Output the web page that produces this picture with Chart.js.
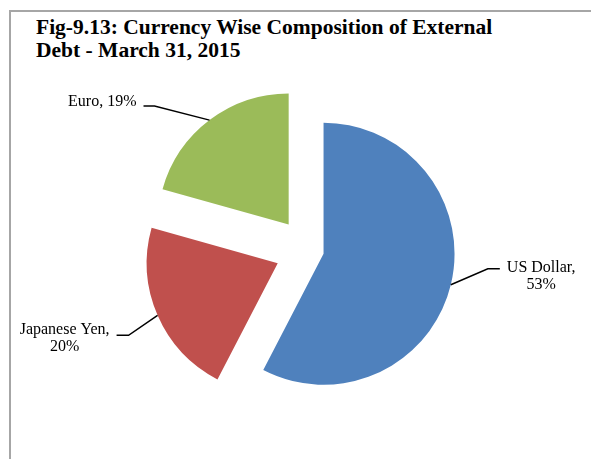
<!DOCTYPE html>
<html>
<head>
<meta charset="utf-8">
<title>Currency Wise Composition of External Debt</title>
<script src="https://cdn.jsdelivr.net/npm/chart.js@4.4.0/dist/chart.umd.min.js"></script>
<style>
  html, body { margin: 0; padding: 0; background: #fff; }
  body { width: 591px; height: 459px; position: relative; overflow: hidden; }
  .frame {
    position: absolute; left: 9px; top: 10px; width: 620px; height: 480px;
    border-left: 2px solid #a6a6a6; border-top: 2px solid #a6a6a6;
  }
  .title {
    position: absolute; left: 36px; top: 16px; margin: 0;
    font: bold 21.5px 'Liberation Serif', 'Times New Roman', serif;
    line-height: 23px; color: #000;
  }
  #debtChart { position: absolute; left: 0; top: 0; }
</style>
</head>
<body>
<div class="frame"></div>
<h1 class="title">Fig-9.13: Currency Wise Composition of External<br>Debt - March 31, 2015</h1>
<canvas id="debtChart" width="591" height="459"></canvas>
<script>
// Share of external debt by currency (%)
const currencies = ['US Dollar', 'Japanese Yen', 'Euro'];
const shares = [53, 20, 19];
const sliceColors = ['#4F81BD', '#C0504D', '#9BBB59'];

// How far each slice is pulled out from the centre (px)
const explodeBy = [16, 33, 32];

// Leader line and label placement, relative to the slice edge
const labelLayout = [
  { elbow: [37, -16], arm: 12, wrap: true, side: 'right', dy: 3 },
  { elbow: [-29, 20], arm: -12, wrap: true, side: 'left', dy: -1 },
  { elbow: [-55, -14], arm: -11, wrap: false, side: 'left', dy: 0 }
];

const labelFont = "16px 'Liberation Serif', 'Times New Roman', serif";

// Moves each arc out along its own mid angle
const explodePlugin = {
  id: 'explode',
  afterDatasetUpdate(chart, args) {
    args.meta.data.forEach((arc, i) => {
      const d = explodeBy[i] || 0;
      const mid = (arc.startAngle + arc.endAngle) / 2;
      arc.x += Math.cos(mid) * d;
      arc.y += Math.sin(mid) * d;
    });
  }
};

// Category name + value labels with bent leader lines
const leaderLabels = {
  id: 'leaderLabels',
  afterDatasetsDraw(chart) {
    const ctx = chart.ctx;
    const arcs = chart.getDatasetMeta(0).data;
    ctx.save();
    ctx.font = labelFont;
    ctx.fillStyle = '#000';
    ctx.strokeStyle = '#000';
    ctx.lineWidth = 1.5;

    arcs.forEach((arc, i) => {
      const layout = labelLayout[i];
      const mid = (arc.startAngle + arc.endAngle) / 2;
      const ax = arc.x + Math.cos(mid) * arc.outerRadius;
      const ay = arc.y + Math.sin(mid) * arc.outerRadius;
      const ex = ax + layout.elbow[0];
      const ey = ay + layout.elbow[1];
      const tx = ex + layout.arm;

      ctx.beginPath();
      ctx.moveTo(ax, ay);
      ctx.lineTo(ex, ey);
      ctx.lineTo(tx, ey);
      ctx.stroke();

      const lines = layout.wrap
        ? [currencies[i] + ',', shares[i] + '%']
        : [currencies[i] + ', ' + shares[i] + '%'];
      const widest = Math.max(...lines.map(l => ctx.measureText(l).width));
      const gap = 7;
      const cx = layout.side === 'right' ? tx + gap + widest / 2 : tx - gap - widest / 2;
      const lineHeight = 17;

      ctx.textAlign = 'center';
      ctx.textBaseline = 'alphabetic';
      lines.forEach((line, k) => {
        ctx.fillText(line, cx, ey + layout.dy + k * lineHeight);
      });
    });
    ctx.restore();
  }
};

new Chart(document.getElementById('debtChart'), {
  type: 'pie',
  data: {
    labels: currencies,
    datasets: [{
      data: shares,
      backgroundColor: sliceColors,
      borderWidth: 0
    }]
  },
  options: {
    responsive: false,
    animation: false,
    radius: 131,
    layout: {
      padding: { left: 25, right: 0, top: 41, bottom: 0 }
    },
    plugins: {
      legend: { display: false },
      tooltip: { enabled: true }
    }
  },
  plugins: [explodePlugin, leaderLabels]
});
</script>
</body>
</html>
